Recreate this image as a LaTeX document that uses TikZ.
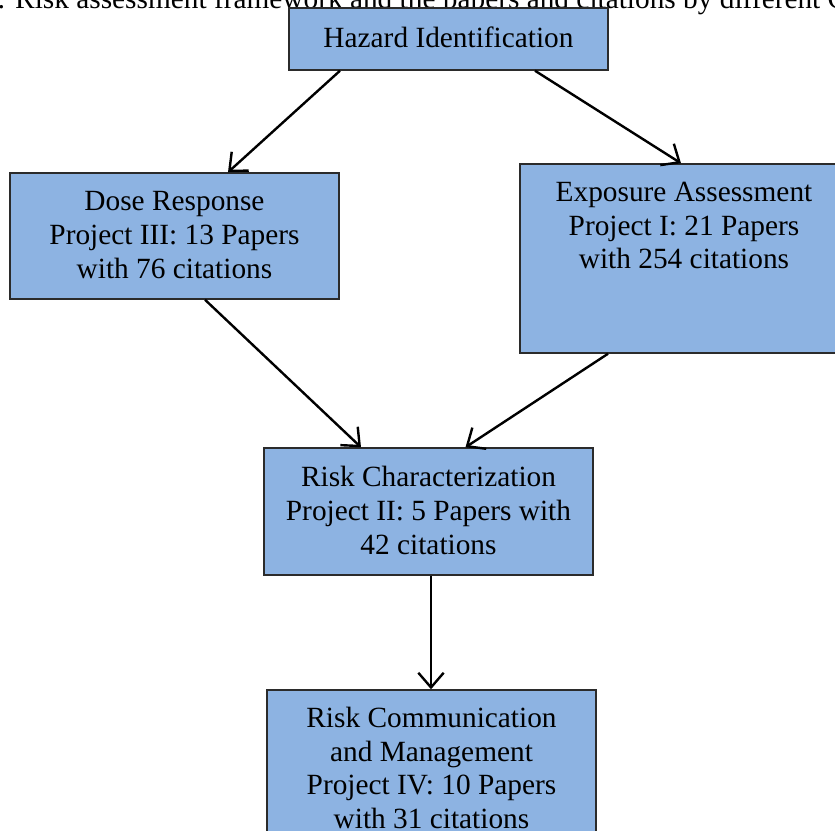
\documentclass[tikz,border=0pt]{standalone}
\usepackage{fontspec}
\setmainfont{Liberation Serif}
\usetikzlibrary{arrows.meta,calc}
\definecolor{boxfill}{HTML}{8DB3E2}
\definecolor{boxline}{HTML}{2B2B2B}
\tikzset{
  box/.style={draw=boxline, line width=1.1pt, fill=boxfill, inner sep=0pt},
  txt/.style={align=center, inner sep=0pt, font=\fontsize{22pt}{25.3pt}\selectfont},
  arr/.style={line width=1.8pt, -{Straight Barb[length=11pt,width=19pt,line width=1.8pt]}}
}
\begin{document}
\begin{tikzpicture}[x=0.75pt,y=-0.75pt]
\useasboundingbox (0,0) rectangle (835,831);
\clip (0,0) rectangle (835,831);
% caption (cropped)
\node[anchor=base west, font=\fontsize{22pt}{26pt}\selectfont, inner sep=0pt] (cap) at (-3,9) {: Risk assessment framework and the papers and citations by different C};
% boxes
\node[box, minimum width=319*0.75pt, minimum height=62*0.75pt] (haz) at (448.5,39) {};
\node[txt] (hazt) at (448.5,37) {Hazard Identification};
\node[box, minimum width=329*0.75pt, minimum height=126*0.75pt] (dose) at (174.5,236) {};
\node[txt] (doset) at (174.5,235) {Dose Response\\Project III: 13 Papers\\with 76 citations};
\node[box, minimum width=328*0.75pt, minimum height=189*0.75pt] (exp) at (684,258.5) {};
\node[txt] (expt) at (684,225.5) {Exposure Assessment\\Project I: 21 Papers\\with 254 citations};
\node[box, minimum width=329*0.75pt, minimum height=127*0.75pt] (rc) at (428.5,511.5) {};
\node[txt] (rct) at (428.5,510.5) {Risk Characterization\\Project II: 5 Papers with\\42 citations};
\node[box, minimum width=329*0.75pt, minimum height=170*0.75pt] (rm) at (431.5,775) {};
\node[txt] (rmt) at (431.5,768) {Risk Communication\\and Management\\Project IV: 10 Papers\\with 31 citations};
% arrows
\draw[arr] ($(haz.south)+(-108.5,0)$) -- ($(dose.north)+(53.5,0)$);
\draw[arr] ($(haz.south)+(86.5,0)$) -- ($(exp.north)+(-3,0)$);
\draw[arr] ($(dose.south)+(30.5,0)$) -- ($(rc.north)+(-67.5,0)$);
\draw[arr] ($(exp.south)+(-76,0)$) -- ($(rc.north)+(37,0)$);
\draw[arr] ($(rc.south)+(2.5,0)$) -- ($(rm.north)+(-0.5,0)$);
\end{tikzpicture}
\end{document}
